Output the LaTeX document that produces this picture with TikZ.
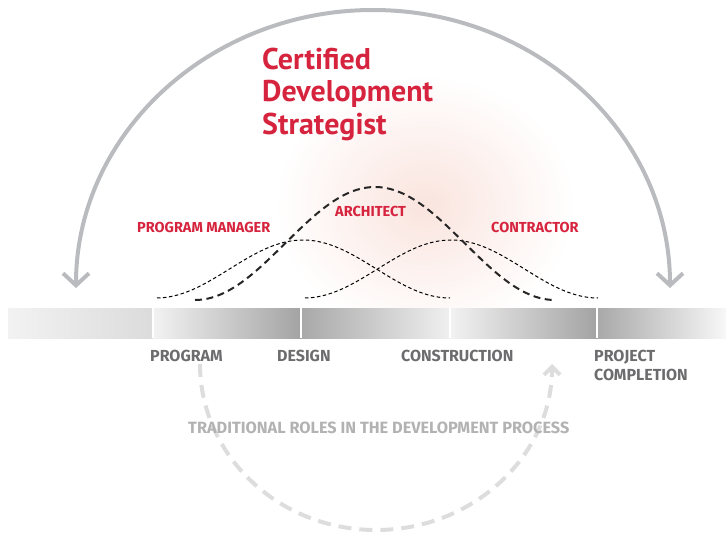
\documentclass[tikz,border=0pt]{standalone}
\usepackage{fontspec}
\setmainfont{PT Sans}
\newfontfamily\lblfont{Fira Sans}
\usetikzlibrary{arrows.meta}
\definecolor{crim}{RGB}{214,36,62}
\definecolor{lbl}{RGB}{108,108,110}
\definecolor{arcg}{RGB}{186,187,191}
\definecolor{dashg}{RGB}{221,221,221}
\definecolor{trad}{RGB}{178,178,178}
\definecolor{glow}{RGB}{250,228,222}
\begin{document}
\begin{tikzpicture}[x=1pt,y=-1pt,
  titletext/.style={text=crim, font=\fontsize{30}{32}\selectfont\bfseries, anchor=base west, inner sep=0},
  roletext/.style={text=crim, font=\lblfont\fontsize{14.5}{16}\selectfont\bfseries, anchor=base west, inner sep=0},
  phasetext/.style={text=lbl, font=\lblfont\fontsize{16}{18}\selectfont\bfseries, anchor=base west, inner sep=0},
  tradtext/.style={text=trad, font=\lblfont\fontsize{16.3}{18}\selectfont\bfseries, anchor=base west, inner sep=0},
  thincurve/.style={black, line width=1pt, dash pattern=on 3.5pt off 2.5pt},
  thickcurve/.style={black!85, line width=2pt, dash pattern=on 7pt off 4.5pt},
  bigarc/.style={arcg, line width=4pt, {Straight Barb[length=12pt,width=26pt]}-{Straight Barb[length=12pt,width=26pt]}},
  returnarc/.style={dashg, line width=4pt, dash pattern=on 13pt off 8pt, -{Straight Barb[length=8pt,width=16pt]}},
  divider/.style={white, line width=1.5pt}
]
\useasboundingbox (0,0) rectangle (726,535);

% soft glow
\shade[inner color=glow, outer color=white] (425,205) ellipse[x radius=150, y radius=130];

% phase bar
\shade[left color=black!5, middle color=black!40, right color=black!14] (8,308) rectangle (153,338);
\shade[left color=black!5, right color=black!36] (153,308) rectangle (301,338);
\shade[left color=black!34, right color=black!6] (301,308) rectangle (450,338);
\shade[left color=black!5, right color=black!36] (450,308) rectangle (597,338);
\shade[left color=black!34, right color=black!3] (597,308) rectangle (726,338);
\foreach \xx in {153,301,450,597} \draw[divider] (\xx,308) -- (\xx,338);

% role curves
\draw[thincurve] plot[domain=157:450, samples=90] (\x, {298 - 29*(1+cos((\x-303)/147*180))});
\draw[thincurve] plot[domain=305:598, samples=90] (\x, {298 - 29*(1+cos((\x-451)/147*180))});
\draw[thickcurve] plot[domain=195:555, samples=110] (\x, {300 - 56.5*(1+cos((\x-375)/180*180))});

% big arc
\coordinate (bigL) at (76,288);
\coordinate (bigR) at (670,288);
\draw[bigarc] (bigL) arc[start angle=180, end angle=360, x radius=297, y radius=278];

% return arc
\coordinate (retL) at (200,364);
\coordinate (retR) at (552,368);
\draw[returnarc] (retL) arc[start angle=180, end angle=0, x radius=176, y radius=166];

% title
\node[titletext] (t1) at (262,70) {Certified};
\node[titletext] (t2) at (262,102) {Development};
\node[titletext] (t3) at (262,134) {Strategist};

% role labels
\node[roletext] (pm) at (137,232) {PROGRAM MANAGER};
\node[roletext] (ar) at (335,216) {ARCHITECT};
\node[roletext] (co) at (491,232) {CONTRACTOR};

% phase labels
\node[phasetext] (p1) at (150,361) {PROGRAM};
\node[phasetext] (p2) at (277,361) {DESIGN};
\node[phasetext] (p3) at (401,361) {CONSTRUCTION};
\node[phasetext] (p4) at (594,361) {PROJECT};
\node[phasetext] (p5) at (594,380) {COMPLETION};

\node[tradtext] (tr) at (188,433) {TRADITIONAL ROLES IN THE DEVELOPMENT PROCESS};
\end{tikzpicture}
\end{document}
